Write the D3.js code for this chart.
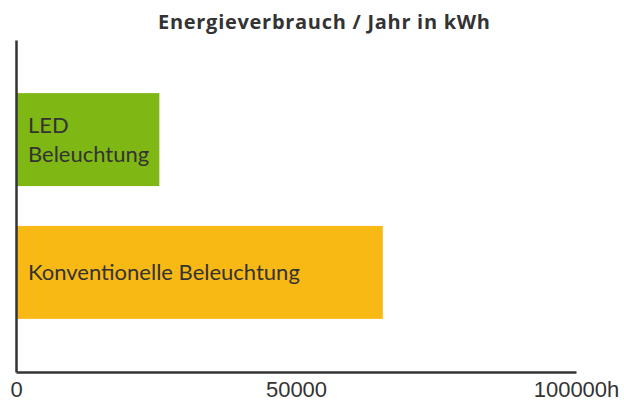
<!DOCTYPE html>
<html><head><meta charset="utf-8">
<script src="https://cdn.jsdelivr.net/npm/d3@7"></script>
<style>body{margin:0;background:#fff}svg{display:block}</style>
</head><body>
<svg id="chart" width="624" height="401"></svg>
<script>
const title = "Energieverbrauch / Jahr in kWh";
const categories = ["LED Beleuchtung", "Konventionelle Beleuchtung"];
const labelLines = [["LED", "Beleuchtung"], ["Konventionelle Beleuchtung"]];
const values = [25600, 65500];
const colors = ["#7fb714", "#f9b914"];
const tickValues = [0, 50000, 100000];
const tickLabels = ["0", "50000", "100000h"];

const svg = d3.select("#chart");
const x0 = 16, x1 = 576, yTop = 40, yBot = 372;
const x = d3.scaleLinear().domain([0, 100000]).range([x0, x1]);
const y = d3.scaleBand().domain(categories).range([yTop, yBot]).paddingInner(0.3).paddingOuter(0.4);

svg.append("text").attr("x", 324).attr("y", 29).attr("text-anchor", "middle")
  .attr("font-family", "Open Sans").attr("font-weight", "bold").attr("font-size", 20)
  .attr("textLength", 332).attr("lengthAdjust", "spacing")
  .attr("fill", "#333").text(title);

svg.selectAll("rect.bar").data(categories).join("rect").attr("class", "bar")
  .attr("x", x(0)).attr("y", d => y(d))
  .attr("width", (d, i) => x(values[i]) - x(0)).attr("height", y.bandwidth())
  .attr("fill", (d, i) => colors[i]);

categories.forEach((c, i) => {
  const lines = labelLines[i];
  const lh = 28.5;
  const cy = y(c) + y.bandwidth() / 2;
  const t = svg.append("text").attr("font-family", "Lato").attr("font-size", 22).attr("fill", "#333");
  lines.forEach((l, j) => {
    t.append("tspan").attr("x", 28)
      .attr("y", cy + (j - (lines.length - 1) / 2) * lh + 8)
      .text(l);
  });
});

const xAxis = svg.append("g").attr("transform", `translate(0,${yBot})`)
  .call(d3.axisBottom(x).tickValues(tickValues).tickSize(0).tickPadding(9)
    .tickFormat((d, i) => tickLabels[i]));
xAxis.select(".domain").attr("stroke", "#333").attr("stroke-width", 2.5);
xAxis.selectAll("text").attr("font-family", "Liberation Sans").attr("font-size", 22).attr("fill", "#333");

const yAxis = svg.append("g").attr("transform", `translate(${x0},0)`)
  .call(d3.axisLeft(y).tickSize(0).tickFormat(""));
yAxis.select(".domain").attr("stroke", "#333").attr("stroke-width", 2.5);
</script>
</body></html>
